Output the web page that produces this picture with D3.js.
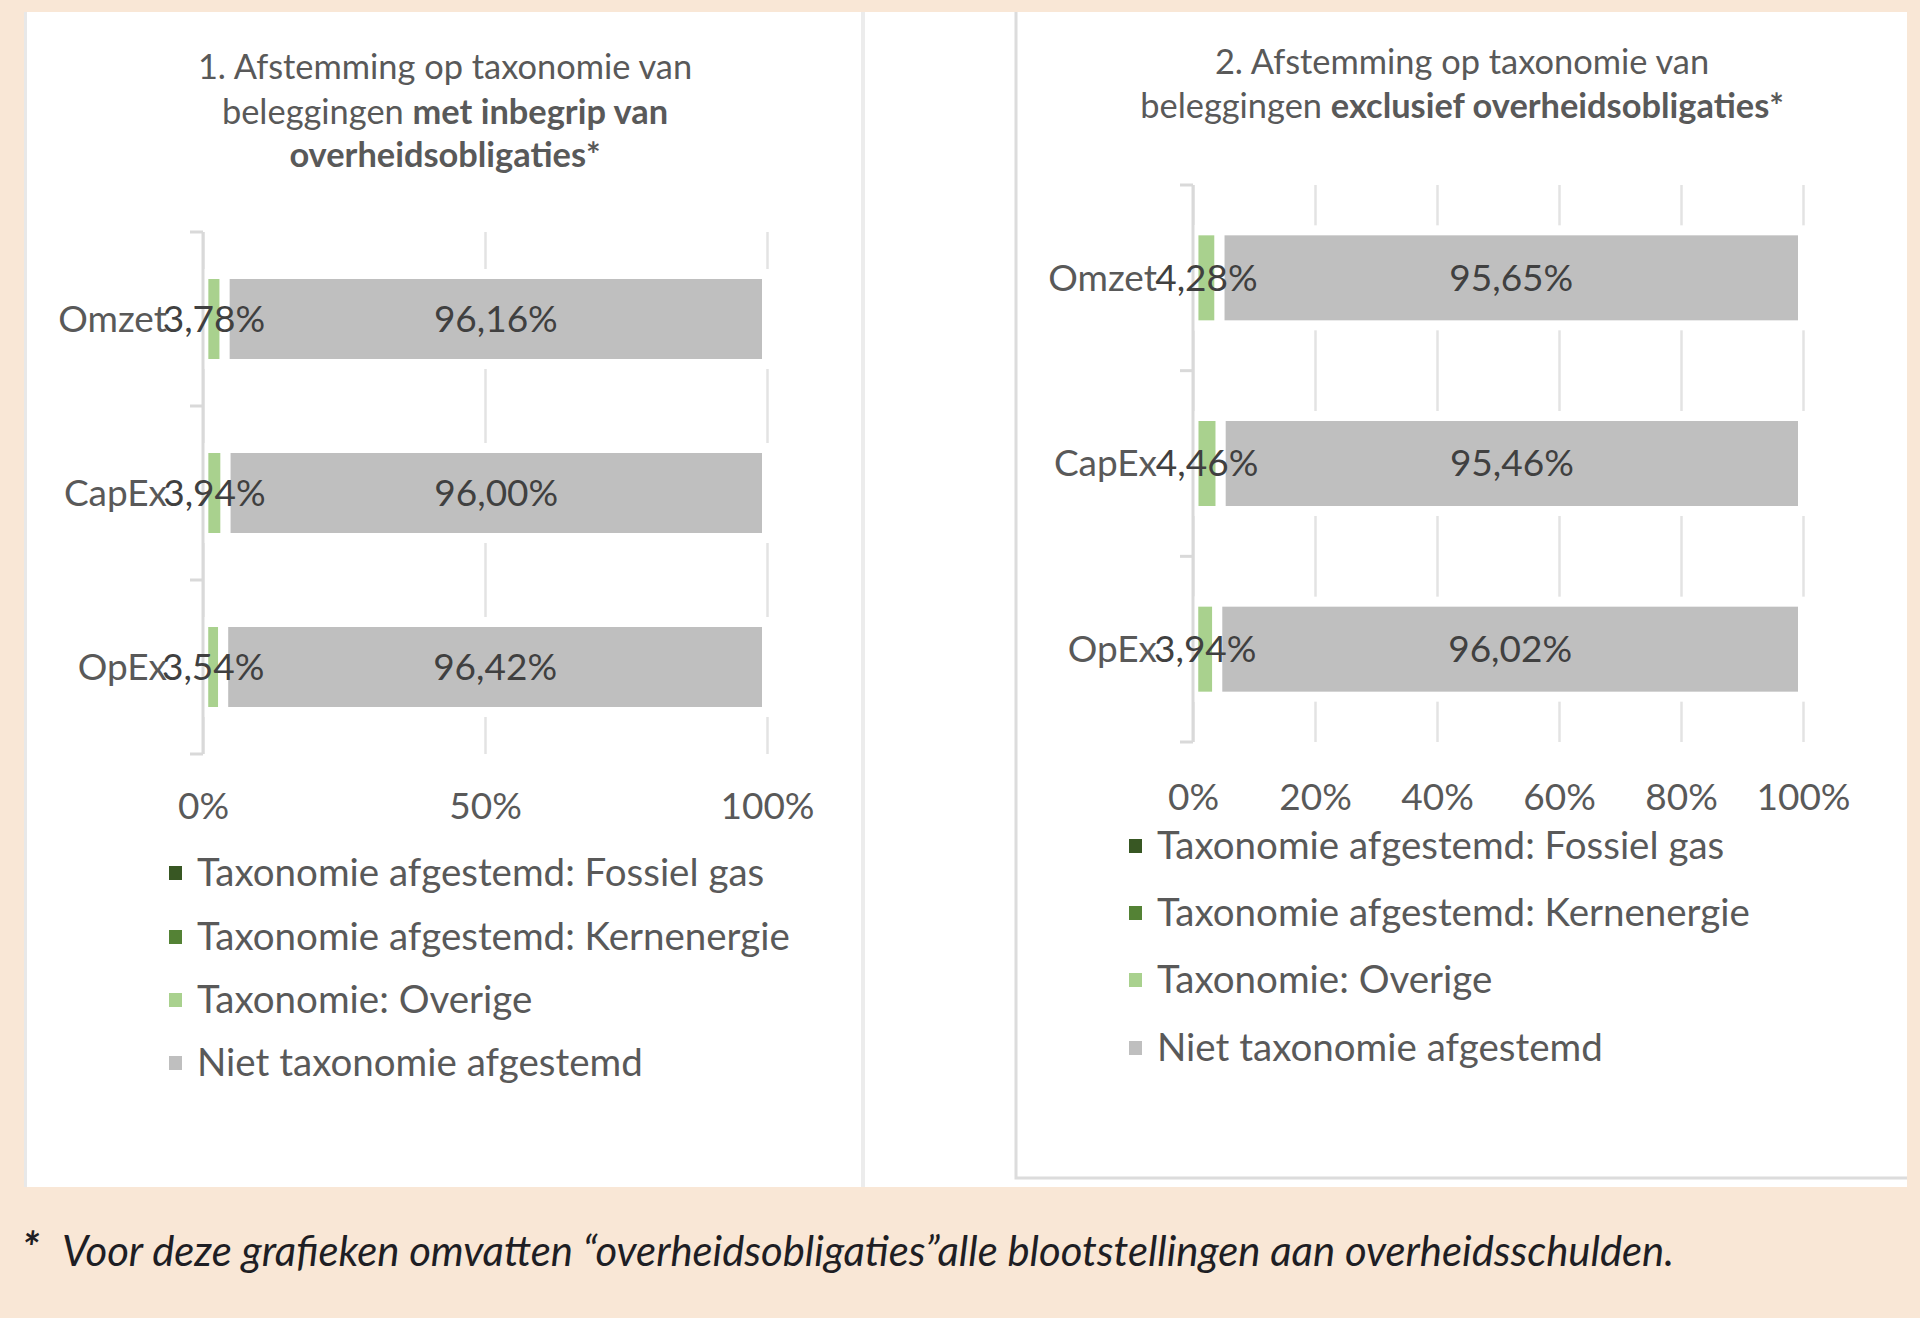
<!DOCTYPE html>
<html>
<head>
<meta charset="utf-8">
<script src="https://cdn.jsdelivr.net/npm/d3@7"></script>
<style>
  html, body { margin: 0; padding: 0; background: #f9e7d6; }
  svg { display: block; }
  text { font-family: Lato, "Open Sans", sans-serif; }
</style>
</head>
<body>
<div id="chart"></div>
<script>
// categories and series
var categories = ["Omzet", "CapEx", "OpEx"];
var seriesNames = ["Taxonomie afgestemd: Fossiel gas", "Taxonomie afgestemd: Kernenergie", "Taxonomie: Overige", "Niet taxonomie afgestemd"];
var seriesKeys = ["gas", "nuclear", "other", "notAligned"];
var seriesColors = ["#385723", "#548235", "#a9d18e", "#bfbfbf"];

// chart 1: incl. government bonds (percent)
var gas1 = [0.03, 0.03, 0.02];
var nuclear1 = [0.03, 0.03, 0.02];
var other1 = [3.78, 3.94, 3.54];
var notAligned1 = [96.16, 96.00, 96.42];
var ticks1 = [0, 50, 100];

// chart 2: excl. government bonds (percent)
var gas2 = [0.03, 0.04, 0.02];
var nuclear2 = [0.04, 0.04, 0.02];
var other2 = [4.28, 4.46, 3.94];
var notAligned2 = [95.65, 95.46, 96.02];
var ticks2 = [0, 20, 40, 60, 80, 100];

var W = 1920, H = 1318;
var nl = d3.formatLocale({decimal: ",", thousands: ".", grouping: [3], currency: ["€", ""]});
var pct = function(v) { return nl.format(".2f")(v) + "%"; };

var svg = d3.select("#chart").append("svg")
  .attr("width", W)
  .attr("height", H);

svg.append("rect").attr("width", W).attr("height", H).attr("fill", "#f9e7d6");
// white card
svg.append("rect").attr("x", 24).attr("y", 12).attr("width", 1883).attr("height", 1175).attr("fill", "#fff");
svg.append("line").attr("x1", 25.5).attr("x2", 25.5).attr("y1", 12).attr("y2", 1187).attr("stroke", "#e8e8e8").attr("stroke-width", 3);
svg.append("line").attr("x1", 863).attr("x2", 863).attr("y1", 12).attr("y2", 1187).attr("stroke", "#ececec").attr("stroke-width", 4);
// right chart frame
svg.append("path")
  .attr("d", "M1016,12V1178H1907")
  .attr("fill", "none").attr("stroke", "#dcdcdc").attr("stroke-width", 3);

function rowsOf(gas, nuclear, other, notAligned) {
  return categories.map(function(c, i) {
    return {cat: c, gas: gas[i], nuclear: nuclear[i], other: other[i], notAligned: notAligned[i]};
  });
}

function drawChart(opt) {
  var g = svg.append("g");
  var x = d3.scaleLinear().domain([0, 100]).range(opt.xRange);
  var step = (opt.yRange[1] - opt.yRange[0]) / categories.length;
  var pin = 1 - opt.barH / step;
  var y = d3.scaleBand().domain(categories).range(opt.yRange).paddingInner(pin).paddingOuter(pin / 2);

  // title
  var t = g.append("text").attr("text-anchor", "middle").attr("fill", "#595959")
    .style("font-size", opt.titleSize + "px");
  opt.title.forEach(function(line, li) {
    var first = true;
    line.forEach(function(part) {
      var ts = t.append("tspan").text(part.t).style("font-weight", part.b ? 700 : 400);
      if (first) { ts.attr("x", opt.titleX).attr("y", opt.titleY[li]); first = false; }
    });
  });

  // gridlines
  g.append("g")
    .attr("transform", "translate(0," + opt.yRange[1] + ")")
    .call(d3.axisBottom(x).tickValues(opt.ticks).tickSize(-(opt.yRange[1] - opt.yRange[0])).tickFormat(""))
    .call(function(s) {
      s.select(".domain").remove();
      s.selectAll(".tick line").attr("stroke", "#e3e3e3").attr("stroke-width", 2.5);
    });

  // tick labels
  g.append("g")
    .attr("transform", "translate(0," + opt.tickY + ")")
    .call(d3.axisBottom(x).tickValues(opt.ticks).tickSize(0).tickFormat(function(d) { return d + "%"; }))
    .call(function(s) {
      s.select(".domain").remove();
      s.selectAll("text").attr("fill", "#595959").attr("dy", "0.35em").attr("y", 0)
        .style("font-size", opt.fs + "px").style("font-family", "Lato, sans-serif");
    });

  // bars
  var rows = rowsOf.apply(null, opt.data);
  var stack = d3.stack().keys(seriesKeys)(rows);
  g.append("g").selectAll("g")
    .data(stack)
    .join("g")
      .attr("fill", function(d, i) { return seriesColors[i]; })
    .selectAll("rect")
    .data(function(d) { return d; })
    .join("rect")
      .attr("x", function(d) { return x(d[0]); })
      .attr("width", function(d) { return x(d[1]) - x(d[0]); })
      .attr("y", function(d) { return y(d.data.cat); })
      .attr("height", y.bandwidth())
      .attr("stroke", "#fff")
      .attr("stroke-width", 10);

  // value axis line + category ticks
  var x0 = x(0);
  g.append("line").attr("x1", x0).attr("x2", x0).attr("y1", opt.yRange[0]).attr("y2", opt.yRange[1])
    .attr("stroke", "#d9d9d9").attr("stroke-width", 3);
  g.append("g").selectAll("line")
    .data(d3.range(categories.length + 1))
    .join("line")
      .attr("x1", x0 - 13).attr("x2", x0)
      .attr("y1", function(i) { return opt.yRange[0] + i * y.step(); })
      .attr("y2", function(i) { return opt.yRange[0] + i * y.step(); })
      .attr("stroke", "#d9d9d9").attr("stroke-width", 3);

  // category labels
  g.append("g").selectAll("text")
    .data(categories)
    .join("text")
      .attr("x", x0 - opt.catGap)
      .attr("y", function(d) { return y(d) + y.bandwidth() / 2; })
      .attr("dy", "0.35em")
      .attr("text-anchor", "end")
      .attr("fill", "#595959")
      .style("font-size", opt.fs + "px")
      .text(function(d) { return d; });

  // data labels for Overige and Niet afgestemd
  var labelled = stack.filter(function(s) { return s.key === "other" || s.key === "notAligned"; });
  g.append("g").selectAll("g")
    .data(labelled)
    .join("g")
    .selectAll("text")
    .data(function(s) { return s.map(function(d) { return {d: d, key: s.key}; }); })
    .join("text")
      .attr("x", function(o) { return x((o.d[0] + o.d[1]) / 2); })
      .attr("y", function(o) { return y(o.d.data.cat) + y.bandwidth() / 2; })
      .attr("dy", "0.35em")
      .attr("text-anchor", "middle")
      .attr("fill", "#404040")
      .style("font-size", opt.fs + "px")
      .text(function(o) { return pct(o.d.data[o.key]); });

  // legend
  var lg = g.append("g").selectAll("g")
    .data(seriesNames)
    .join("g")
      .attr("transform", function(d, i) { return "translate(" + opt.legX + "," + opt.legY[i] + ")"; });
  lg.append("rect").attr("x", 0).attr("y", -7).attr("width", 13).attr("height", 14)
    .attr("fill", function(d, i) { return seriesColors[i]; });
  lg.append("text").attr("x", opt.legTextGap).attr("dy", "0.35em").attr("fill", "#595959")
    .style("font-size", opt.legFs + "px")
    .text(function(d) { return d; });
}

drawChart({
  data: [gas1, nuclear1, other1, notAligned1],
  ticks: ticks1,
  xRange: [203, 767],
  yRange: [232, 754],
  barH: 90,
  tickY: 806,
  fs: 37,
  catGap: 36,
  titleX: 445, titleY: [79, 124, 167], titleSize: 34.4,
  title: [
    [{t: "1. Afstemming op taxonomie van", b: false}],
    [{t: "beleggingen ", b: false}, {t: "met inbegrip van", b: true}],
    [{t: "overheidsobligaties*", b: true}]
  ],
  legX: 169, legY: [873, 937, 1000, 1063], legTextGap: 28, legFs: 38.5
});

drawChart({
  data: [gas2, nuclear2, other2, notAligned2],
  ticks: ticks2,
  xRange: [1193, 1803],
  yRange: [185, 742],
  barH: 95,
  tickY: 797,
  fs: 37,
  catGap: 36,
  titleX: 1462, titleY: [74, 118], titleSize: 34.4,
  title: [
    [{t: "2. Afstemming op taxonomie van", b: false}],
    [{t: "beleggingen ", b: false}, {t: "exclusief overheidsobligaties*", b: true}]
  ],
  legX: 1129, legY: [846, 913, 980, 1048], legTextGap: 28, legFs: 38.5
});

// footnote
svg.append("text").attr("x", 22).attr("y", 1264).attr("fill", "#1e1e24")
  .style("font-size", "44px").style("font-style", "italic").style("font-weight", 700).text("*");
svg.append("text").attr("x", 62).attr("y", 1266).attr("fill", "#1e1e24")
  .style("font-size", "42px").style("font-style", "italic")
  .attr("textLength", 1612).attr("lengthAdjust", "spacingAndGlyphs")
  .text("Voor deze grafieken omvatten \u201coverheidsobligaties\u201dalle blootstellingen aan overheidsschulden.");
</script>
</body>
</html>
